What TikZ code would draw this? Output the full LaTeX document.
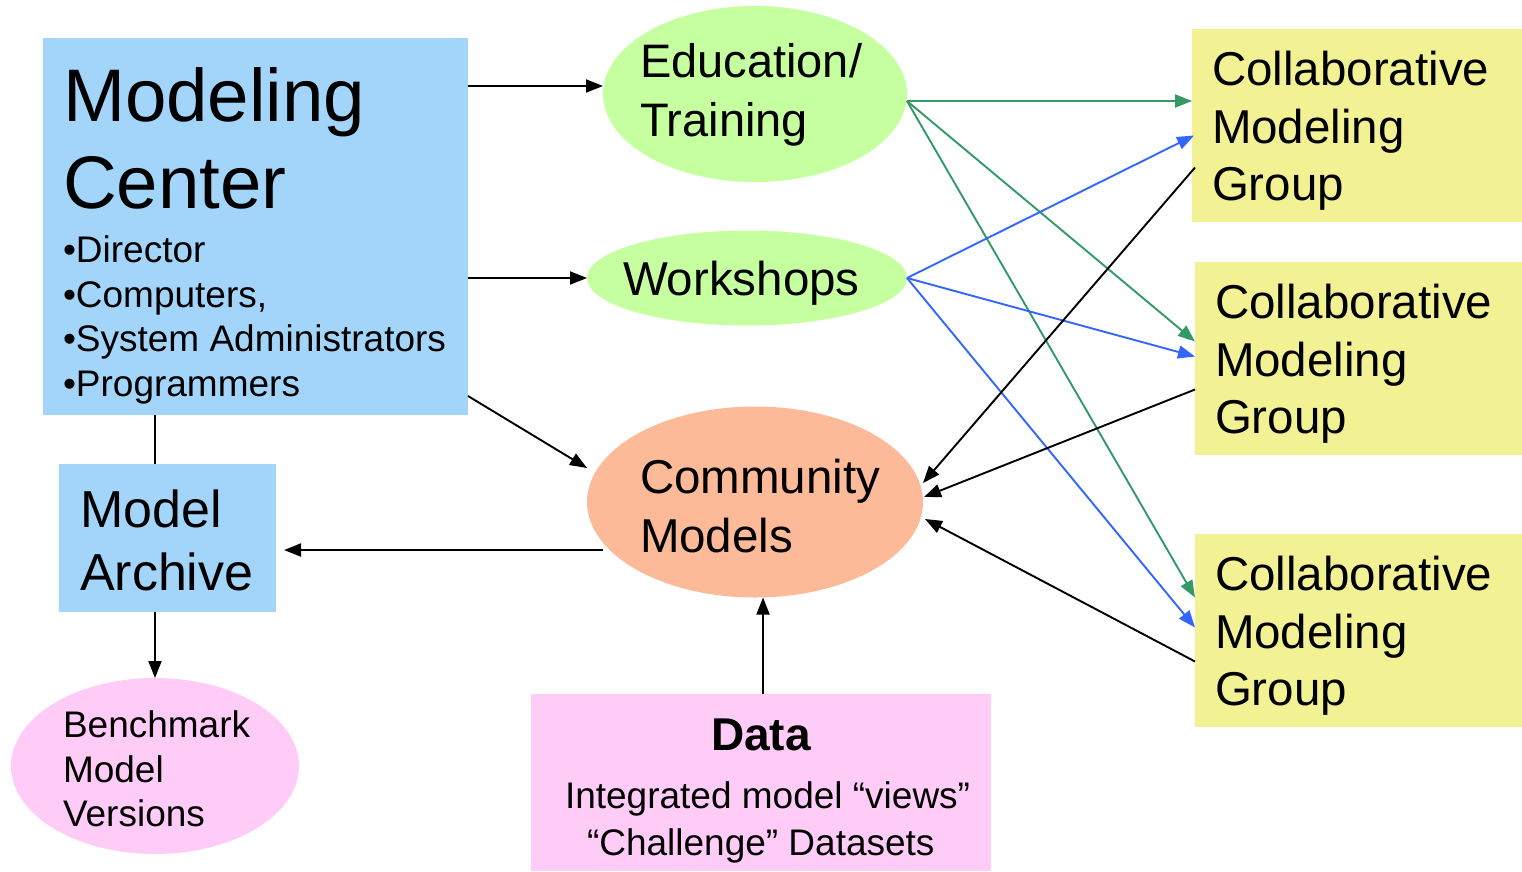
\documentclass[tikz,border=0pt]{standalone}
\usepackage{fontspec}
\setmainfont{Liberation Sans}
\usetikzlibrary{shapes.geometric,arrows.meta,calc}
\definecolor{mcblue}{HTML}{A3D5FA}
\definecolor{lgreen}{HTML}{C6FFA0}
\definecolor{salmon}{HTML}{FCBA98}
\definecolor{lpink}{HTML}{FFCCF8}
\definecolor{lyellow}{HTML}{F2F294}
\definecolor{agreen}{HTML}{339966}
\definecolor{ablue}{HTML}{3366FF}
\tikzset{
  boxshape/.style={rectangle, draw=none, inner sep=0pt, outer sep=0pt, anchor=north west},
  ellshape/.style={ellipse, draw=none, inner sep=0pt, outer sep=0pt},
  txt/.style={anchor=base west, inner sep=0pt, outer sep=0pt},
  arr/.style={line width=1.9pt, -{Triangle[length=17pt,width=13pt]}},
  plain/.style={line width=1.9pt},
}
\begin{document}
\begin{tikzpicture}[x=1pt,y=-1pt]
\useasboundingbox (0,0) rectangle (1522,871);
% shapes
\node[boxshape, fill=mcblue, minimum width=425pt, minimum height=377pt] (mc) at (43,38) {};
\node[boxshape, fill=mcblue, minimum width=217pt, minimum height=148pt] (ma) at (59,464) {};
\node[ellshape, fill=lpink, minimum width=288pt, minimum height=176pt] (bench) at (155,766) {};
\node[ellshape, fill=lgreen, minimum width=304pt, minimum height=176pt] (edu) at (755,94) {};
\node[ellshape, fill=lgreen, minimum width=320pt, minimum height=95pt] (ws) at (747,278) {};
\node[ellshape, fill=salmon, minimum width=336pt, minimum height=191pt] (cm) at (755,502) {};
\node[boxshape, fill=lpink, minimum width=460pt, minimum height=177pt] (data) at (531,694) {};
\node[boxshape, fill=lyellow, minimum width=330pt, minimum height=193pt] (g1) at (1192,29) {};
\node[boxshape, fill=lyellow, minimum width=327pt, minimum height=193pt] (g2) at (1195,262) {};
\node[boxshape, fill=lyellow, minimum width=327pt, minimum height=193pt] (g3) at (1195,534) {};
% texts
\node[txt, font=\fontsize{74.5}{80}\selectfont] (t1) at (63,121) {Modeling};
\node[txt, font=\fontsize{74.5}{80}\selectfont] (t2) at (63,208) {Center};
\node[txt, font=\fontsize{37}{40}\selectfont] (t3) at (63,262) {•Director};
\node[txt, font=\fontsize{37}{40}\selectfont] (t4) at (63,307) {•Computers,};
\node[txt, font=\fontsize{37}{40}\selectfont] (t5) at (63,351) {•System Administrators};
\node[txt, font=\fontsize{37}{40}\selectfont] (t6) at (63,396) {•Programmers};
\node[txt, font=\fontsize{52}{56}\selectfont] (t7) at (80,527) {Model};
\node[txt, font=\fontsize{52}{56}\selectfont] (t8) at (80,590) {Archive};
\node[txt, font=\fontsize{37}{40}\selectfont] (t9) at (63,737) {Benchmark};
\node[txt, font=\fontsize{37}{40}\selectfont] (t10) at (63,782) {Model};
\node[txt, font=\fontsize{37}{40}\selectfont] (t11) at (63,826) {Versions};
\node[txt, font=\fontsize{47}{50}\selectfont] (t12) at (640,77) {Education/};
\node[txt, font=\fontsize{47}{50}\selectfont] (t13) at (640,136) {Training};
\node[txt, font=\fontsize{47.5}{50}\selectfont] (t14) at (623,295) {Workshops};
\node[txt, font=\fontsize{47.5}{50}\selectfont] (t15) at (640,493) {Community};
\node[txt, font=\fontsize{47.5}{50}\selectfont] (t16) at (640,552) {Models};
\node[anchor=base, inner sep=0pt, font=\fontsize{46}{50}\selectfont\bfseries] (t17) at (761,750) {Data};
\node[txt, font=\fontsize{37}{40}\selectfont] (t18) at (565,808) {Integrated model “views”};
\node[txt, font=\fontsize{37}{40}\selectfont] (t19) at (587,855) {“Challenge” Datasets};
\node[txt, font=\fontsize{47.5}{50}\selectfont] (g1a) at (1212,85) {Collaborative};
\node[txt, font=\fontsize{47.5}{50}\selectfont] (g1b) at (1212,143) {Modeling};
\node[txt, font=\fontsize{47.5}{50}\selectfont] (g1c) at (1212,200) {Group};
\node[txt, font=\fontsize{47.5}{50}\selectfont] (g2a) at (1215,318) {Collaborative};
\node[txt, font=\fontsize{47.5}{50}\selectfont] (g2b) at (1215,376) {Modeling};
\node[txt, font=\fontsize{47.5}{50}\selectfont] (g2c) at (1215,433) {Group};
\node[txt, font=\fontsize{47.5}{50}\selectfont] (g3a) at (1215,590) {Collaborative};
\node[txt, font=\fontsize{47.5}{50}\selectfont] (g3b) at (1215,648) {Modeling};
\node[txt, font=\fontsize{47.5}{50}\selectfont] (g3c) at (1215,705) {Group};
% black connectors on the left
\draw[arr] (mc.east |- 0,86) -- (edu.west |- 0,86);
\draw[arr] (mc.east |- 0,278) -- (ws.west);
\draw[arr] (mc.east |- 0,396) -- ($(cm.center)+(-168,-34)$);
\draw[plain] (bench.north |- mc.south) -- (bench.north |- ma.north);
\draw[arr] (bench.north |- ma.south) -- (bench.north);
\draw[arr] ($(cm.center)+(-152,48)$) -- ($(ma.east |- 0,550)+(8,0)$);
\draw[arr] ($(data.north)+(2,0)$) -- ($(data.north |- cm.south)+(2,0)$);
% green connectors
\coordinate (eduout) at ($(edu.east)+(0,7)$);
\draw[arr, agreen] (eduout) -- (g1.west |- eduout);
\draw[arr, agreen] (eduout) -- ($(g2.west)+(0,-17)$);
\draw[arr, agreen] (eduout) -- ($(g3.west)+(0,-33)$);
% blue connectors
\draw[arr, ablue] (ws.east) -- ($(g1.west)+(2,10)$);
\draw[arr, ablue] (ws.east) -- ($(g2.west)+(0,-2)$);
\draw[arr, ablue] (ws.east) -- ($(g3.west)+(0,-3)$);
% black connectors from groups
\draw[arr] ($(g1.west)+(3,42)$) -- ($(cm.east)+(0,-19)$);
\draw[arr] ($(g2.west)+(0,31)$) -- ($(cm.east)+(1,-5)$);
\draw[arr] ($(g3.west)+(0,31)$) -- ($(cm.east)+(2,17)$);
\end{tikzpicture}
\end{document}
